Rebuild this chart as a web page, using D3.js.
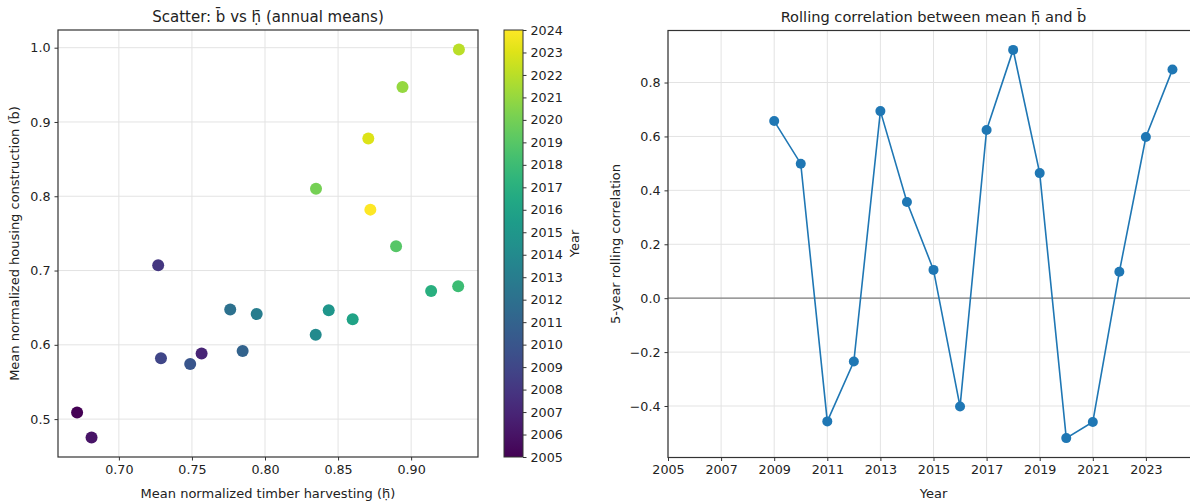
<!DOCTYPE html>
<html>
<head>
<meta charset="utf-8">
<script src="https://cdn.jsdelivr.net/npm/d3@7"></script>
<style>
body { margin: 0; background: #fff; }
text { font-family: "DejaVu Sans", sans-serif; fill: #222; }
</style>
</head>
<body>
<svg id="chart" width="1190" height="504"></svg>
<script>
// annual means, one point per year
var years = [2005, 2006, 2007, 2008, 2009, 2010, 2011, 2012, 2013, 2014, 2015, 2016, 2017, 2018, 2019, 2020, 2021, 2022, 2023, 2024];
var harvest = [0.6714, 0.6813, 0.7566, 0.7269, 0.7288, 0.7488, 0.7847, 0.7762, 0.7943, 0.8347, 0.8436, 0.8600, 0.9137, 0.9322, 0.8897, 0.8349, 0.8941, 0.9327, 0.8707, 0.8721];
var housing = [0.5088, 0.4751, 0.5882, 0.7070, 0.5818, 0.5741, 0.5917, 0.6474, 0.6415, 0.6137, 0.6464, 0.6343, 0.6724, 0.6787, 0.7326, 0.8102, 0.9470, 0.9977, 0.8779, 0.7820];
// 5-year rolling correlation
var rollYears = [2009, 2010, 2011, 2012, 2013, 2014, 2015, 2016, 2017, 2018, 2019, 2020, 2021, 2022, 2023, 2024];
var rollCorr = [0.657, 0.499, -0.457, -0.235, 0.694, 0.357, 0.105, -0.402, 0.624, 0.921, 0.464, -0.519, -0.459, 0.098, 0.598, 0.848];
var xTicksL = [0.70, 0.75, 0.80, 0.85, 0.90];
var yTicksL = [0.5, 0.6, 0.7, 0.8, 0.9, 1.0];
var xTicksR = [2005, 2007, 2009, 2011, 2013, 2015, 2017, 2019, 2021, 2023];
var yTicksR = [-0.4, -0.2, 0.0, 0.2, 0.4, 0.6, 0.8];
var cbTicks = d3.range(2005, 2025);

var B = "b\u0304", H = "h\u0323\u0304";
var svg = d3.select("#chart");
var gridCol = "#e3e3e3", spineCol = "#333";

function pad(ext) {
	var m = (ext[1] - ext[0]) * 0.05;
	return [ext[0] - m, ext[1] + m];
}
function styleAxis(g) {
	g.select(".domain").remove();
	g.selectAll(".tick line").attr("stroke", spineCol).attr("stroke-width", 1);
	g.selectAll(".tick text").attr("font-size", "12.7px").attr("font-family", "DejaVu Sans").attr("fill", "#222");
}

// ---------- left: scatter ----------
var L = {l: 58, r: 478, t: 30, b: 457};
var xL = d3.scaleLinear().domain(pad(d3.extent(harvest))).range([L.l, L.r]);
var yL = d3.scaleLinear().domain(pad(d3.extent(housing))).range([L.b, L.t]);
var color = d3.scaleSequential(d3.interpolateViridis).domain([2005, 2024]);

var left = svg.append("g");
left.append("g").selectAll("line.gx").data(xTicksL).enter().append("line")
	.attr("x1", function (d) { return xL(d); }).attr("x2", function (d) { return xL(d); })
	.attr("y1", L.t).attr("y2", L.b).attr("stroke", gridCol).attr("stroke-width", 1);
left.append("g").selectAll("line.gy").data(yTicksL).enter().append("line")
	.attr("y1", function (d) { return yL(d); }).attr("y2", function (d) { return yL(d); })
	.attr("x1", L.l).attr("x2", L.r).attr("stroke", gridCol).attr("stroke-width", 1);

left.append("g").selectAll("circle").data(years).enter().append("circle")
	.attr("cx", function (d, i) { return xL(harvest[i]); })
	.attr("cy", function (d, i) { return yL(housing[i]); })
	.attr("r", 6).attr("fill", function (d) { return color(d); });

left.append("rect").attr("x", L.l).attr("y", L.t).attr("width", L.r - L.l).attr("height", L.b - L.t)
	.attr("fill", "none").attr("stroke", spineCol).attr("stroke-width", 1.2);

left.append("g").attr("transform", "translate(0," + L.b + ")")
	.call(d3.axisBottom(xL).tickValues(xTicksL).tickFormat(d3.format(".2f")).tickSize(3.5).tickPadding(4))
	.call(styleAxis);
left.append("g").attr("transform", "translate(" + L.l + ",0)")
	.call(d3.axisLeft(yL).tickValues(yTicksL).tickFormat(d3.format(".1f")).tickSize(3.5).tickPadding(4))
	.call(styleAxis);

left.append("text").attr("x", (L.l + L.r) / 2).attr("y", 22).attr("text-anchor", "middle")
	.attr("font-size", "15px").text("Scatter: " + B + " vs " + H + " (annual means)");
left.append("text").attr("x", (L.l + L.r) / 2).attr("y", 498).attr("text-anchor", "middle")
	.attr("font-size", "13px").text("Mean normalized timber harvesting (" + H + ")");
left.append("text").attr("transform", "translate(19," + ((L.t + L.b) / 2) + ") rotate(-90)")
	.attr("text-anchor", "middle").attr("font-size", "13px")
	.text("Mean normalized housing construction (" + B + ")");

// colorbar
var CB = {l: 504, r: 523, t: 30, b: 457};
var yCB = d3.scaleLinear().domain([2005, 2024]).range([CB.b, CB.t]);
var grad = svg.append("defs").append("linearGradient").attr("id", "vir")
	.attr("x1", "0").attr("y1", "1").attr("x2", "0").attr("y2", "0");
d3.range(0, 1.0001, 0.05).forEach(function (t) {
	grad.append("stop").attr("offset", t).attr("stop-color", d3.interpolateViridis(t));
});
svg.append("rect").attr("x", CB.l).attr("y", CB.t).attr("width", CB.r - CB.l).attr("height", CB.b - CB.t)
	.attr("fill", "url(#vir)").attr("stroke", spineCol).attr("stroke-width", 1);
svg.append("g").attr("transform", "translate(" + CB.r + ",0)")
	.call(d3.axisRight(yCB).tickValues(cbTicks).tickFormat(d3.format("d")).tickSize(3.5).tickPadding(4))
	.call(styleAxis);
svg.append("text").attr("transform", "translate(579," + ((CB.t + CB.b) / 2) + ") rotate(-90)")
	.attr("text-anchor", "middle").attr("font-size", "13px").text("Year");

// ---------- right: rolling correlation ----------
var R = {l: 668, r: 1199, t: 30.5, b: 457.5};
var xR = d3.scaleLinear().domain([2005, 2025]).range([R.l, R.r]);
var yR = d3.scaleLinear().domain(pad(d3.extent(rollCorr))).range([R.b, R.t]);

var right = svg.append("g");
right.append("g").selectAll("line.gx").data(xTicksR).enter().append("line")
	.attr("x1", function (d) { return xR(d); }).attr("x2", function (d) { return xR(d); })
	.attr("y1", R.t).attr("y2", R.b).attr("stroke", gridCol).attr("stroke-width", 1);
right.append("g").selectAll("line.gy").data(yTicksR).enter().append("line")
	.attr("y1", function (d) { return yR(d); }).attr("y2", function (d) { return yR(d); })
	.attr("x1", R.l).attr("x2", R.r).attr("stroke", gridCol).attr("stroke-width", 1);
right.append("line").attr("x1", R.l).attr("x2", R.r).attr("y1", yR(0)).attr("y2", yR(0))
	.attr("stroke", "#808080").attr("stroke-width", 1.2);

var line = d3.line().x(function (d, i) { return xR(rollYears[i]); }).y(function (d) { return yR(d); });
right.append("path").datum(rollCorr).attr("d", line).attr("fill", "none")
	.attr("stroke", "#1f77b4").attr("stroke-width", 1.6);
right.append("g").selectAll("circle").data(rollCorr).enter().append("circle")
	.attr("cx", function (d, i) { return xR(rollYears[i]); })
	.attr("cy", function (d) { return yR(d); })
	.attr("r", 5).attr("fill", "#1f77b4");

right.append("rect").attr("x", R.l).attr("y", R.t).attr("width", R.r - R.l).attr("height", R.b - R.t)
	.attr("fill", "none").attr("stroke", spineCol).attr("stroke-width", 1.2);

right.append("g").attr("transform", "translate(0," + R.b + ")")
	.call(d3.axisBottom(xR).tickValues(xTicksR).tickFormat(d3.format("d")).tickSize(3.5).tickPadding(4))
	.call(styleAxis);
right.append("g").attr("transform", "translate(" + R.l + ",0)")
	.call(d3.axisLeft(yR).tickValues(yTicksR).tickFormat(d3.format(".1f")).tickSize(3.5).tickPadding(4))
	.call(styleAxis);

right.append("text").attr("x", (R.l + R.r) / 2).attr("y", 22).attr("text-anchor", "middle")
	.attr("font-size", "14.6px").text("Rolling correlation between mean " + H + " and " + B);
right.append("text").attr("x", (R.l + R.r) / 2).attr("y", 498).attr("text-anchor", "middle")
	.attr("font-size", "13px").text("Year");
right.append("text").attr("transform", "translate(620," + ((R.t + R.b) / 2) + ") rotate(-90)")
	.attr("text-anchor", "middle").attr("font-size", "13px").text("5-year rolling correlation");
</script>
</body>
</html>
